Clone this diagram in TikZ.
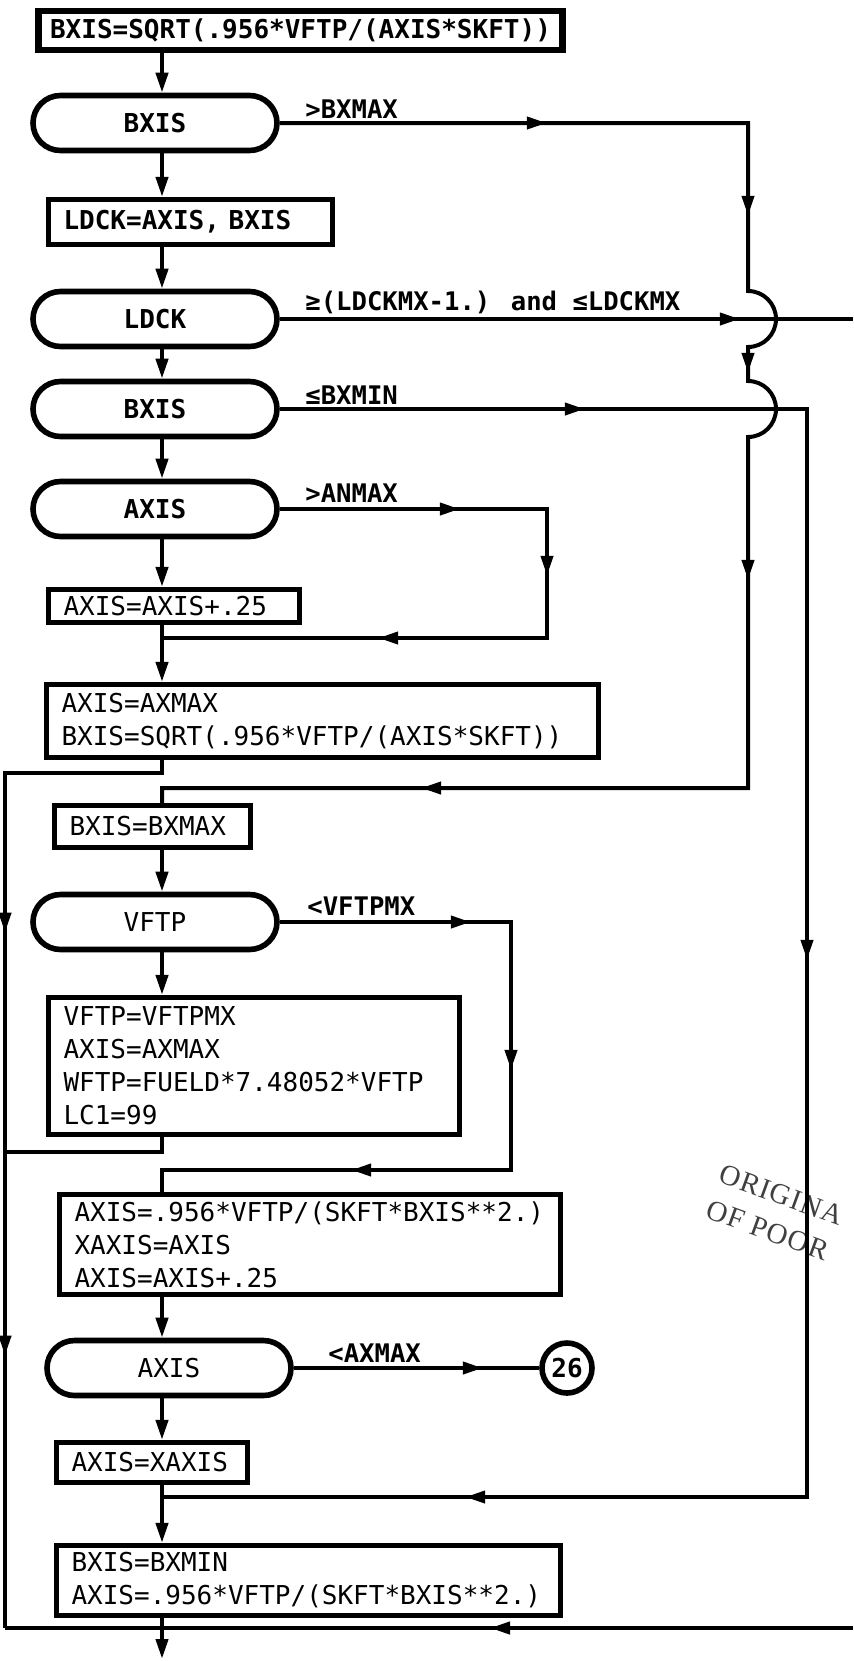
\documentclass[tikz,border=0pt]{standalone}
\usepackage{fontspec}
\setmainfont{DejaVu Sans Mono}
\newfontfamily\stampfont{Liberation Serif}[LetterSpace=4]
\usetikzlibrary{arrows.meta, calc, shapes.misc, decorations.markings}

\begin{document}
\begin{tikzpicture}[x=0.5pt, y=-0.5pt, >={Triangle[length=10pt,width=6pt]},
  box/.style={draw, rectangle, line width=2.6pt, align=left, inner xsep=7.5pt, inner ysep=2pt,
    font=\fontsize{13}{16.5}\selectfont},
  heavy/.style={font=\fontsize{13}{16.5}\selectfont\bfseries},
  test/.style={draw, rounded rectangle, line width=2.8pt, minimum width=122pt, minimum height=27.5pt,
    inner sep=0pt, font=\fontsize{13}{16}\selectfont},
  cond/.style={anchor=base west, inner sep=0pt, font=\fontsize{12.8}{15}\selectfont\bfseries},
  flow/.style={line width=2pt, line join=miter},
  arrat/.style={postaction={decorate, decoration={markings, mark=at position #1 with {\arrow{>}}}}}]
  \useasboundingbox (0,0) rectangle (853,1661);
  \coordinate (col) at (162,0);
  % boxes and tests, top to bottom
  \node[box, heavy, line width=3.2pt, align=center, inner sep=0pt, minimum width=262pt, minimum height=19.3pt] (bx1) at (300.5,30.5) {BXIS=SQRT(.956*VFTP/(AXIS*SKFT))};
  \node[test, heavy] (t1) at (155,123) {BXIS};
  \node[box, heavy, text width=127pt, minimum height=22.5pt] (bx2) at (190.5,222) {LDCK=AXIS, BXIS};
  \node[test, heavy] (t2) at (155,319) {LDCK};
  \node[test, heavy] (t3) at (155,409) {BXIS};
  \node[test, heavy] (t4) at (155,509) {AXIS};
  \node[box, text width=110.5pt, minimum height=16.5pt] (bx3) at (174,606) {AXIS=AXIS+.25};
  \node[box, text width=261pt, minimum height=36.5pt] (bx4) at (322.5,721) {AXIS=AXMAX\\BXIS=SQRT(.956*VFTP/(AXIS*SKFT))};
  \node[box, text width=83pt, minimum height=21pt] (bx5) at (152.5,826.5) {BXIS=BXMAX};
  \node[test] (t5) at (155,922) {VFTP};
  \node[box, text width=190.5pt, minimum height=68.5pt] (bx6) at (254,1066) {VFTP=VFTPMX\\AXIS=AXMAX\\WFTP=FUELD*7.48052*VFTP\\LC1=99};
  \node[box, text width=235.5pt, minimum height=50pt] (bx7) at (310,1244.5) {AXIS=.956*VFTP/(SKFT*BXIS**2.)\\XAXIS=AXIS\\AXIS=AXIS+.25};
  \node[test] (t6) at (169,1368) {AXIS};
  \node[draw, circle, line width=2.8pt, minimum size=25pt, inner sep=0pt, font=\fontsize{13}{16}\selectfont\bfseries] (c26) at (567,1368) {26};
  \node[box, text width=80.5pt, minimum height=20pt] (bx8) at (152,1462.5) {AXIS=XAXIS};
  \node[box, text width=237pt, minimum height=35pt] (bx9) at (308.5,1580.5) {BXIS=BXMIN\\AXIS=.956*VFTP/(SKFT*BXIS**2.)};
  % branch conditions
  \node[cond] (lbxmax) at (305,118) {>BXMAX};
  \node[cond] (lldck) at (305,310) {≥(LDCKMX-1.) and ≤LDCKMX};
  \node[cond] (lbxmin) at (305,404) {≤BXMIN};
  \node[cond] (lanmax) at (305,502) {>ANMAX};
  \node[cond] (lvftp) at (307,915) {<VFTPMX};
  \node[cond] (laxmax) at (328,1362) {<AXMAX};
  % stamp
  \node[anchor=north west, rotate=-20, align=left, inner sep=0pt, text=black!75,
    font=\stampfont\fontsize{14.5}{19}\selectfont] (stamp) at (724,1163) {ORIGINA\\OF POOR};
  % corner points
  \coordinate (rA) at (748,123);
  \coordinate (rAb) at (748,788);
  \coordinate (hopA) at (rA |- t2.east);
  \coordinate (hopB) at (rA |- t3.east);
  \coordinate (rB) at (807,409);
  \coordinate (rBb) at (807,1497);
  \coordinate (rC) at (547,509);
  \coordinate (rCb) at (547,638);
  \coordinate (rD) at (511,922);
  \coordinate (rDb) at (511,1170);
  \coordinate (ldout) at (853,319);
  \coordinate (lft) at (5,773);
  \coordinate (lftb) at (5,1628);
  \coordinate (j6) at (162,1152);
  \coordinate (botin) at (853,1628);
  \coordinate (exit) at (162,1659);
  % main column
  \draw[flow,->] (bx1.south -| col) -- (t1.north -| col);
  \draw[flow,->] (t1.south -| col) -- (bx2.north -| col);
  \draw[flow,->] (bx2.south -| col) -- (t2.north -| col);
  \draw[flow,->] (t2.south -| col) -- (t3.north -| col);
  \draw[flow,->] (t3.south -| col) -- (t4.north -| col);
  \draw[flow,->] (t4.south -| col) -- (bx3.north -| col);
  \draw[flow,->] (bx3.south -| col) -- (bx4.north -| col);
  \draw[flow,->] (bx5.south -| col) -- (t5.north -| col);
  \draw[flow,->] (t5.south -| col) -- (bx6.north -| col);
  \draw[flow,->] (bx7.south -| col) -- (t6.north -| col);
  \draw[flow,->] (t6.south -| col) -- (bx8.north -| col);
  \draw[flow,->] (bx8.south -| col) -- (bx9.north -| col);
  \draw[flow,->] (bx9.south -| col) -- (exit);
  % >BXMAX, hopping over two lines
  \draw[flow, arrat=133.5pt, arrat=280.5pt, arrat=375pt, arrat=494.5pt, arrat=762pt]
    (t1.east) -- (rA) -- ($(hopA)+(0,14pt)$) arc[start angle=90, end angle=-90, radius=14pt]
    -- ($(hopB)+(0,14pt)$) arc[start angle=90, end angle=-90, radius=14pt]
    -- (rAb) -- (rAb -| col) -- (bx5.north -| col);
  % LDCK out
  \draw[flow, arrat=230pt] (t2.east) -- (ldout);
  % <=BXMIN
  \draw[flow, arrat=152.5pt, arrat=539pt, arrat=978.5pt] (t3.east) -- (rB) -- (rBb) -- (rBb -| col);
  % >ANMAX
  \draw[flow, arrat=90pt, arrat=167pt, arrat=282.5pt] (t4.east) -- (rC) -- (rCb) -- (rCb -| col);
  % <VFTPMX
  \draw[flow, arrat=95.5pt, arrat=189.5pt, arrat=319.5pt] (t5.east) -- (rD) -- (rDb) -- (rDb -| col) -- (bx7.north -| col);
  % <AXMAX
  \draw[flow, arrat=94.5pt] (t6.east) -- (c26.west);
  % left loop
  \draw[flow, arrat=164.75pt, arrat=376.25pt] (bx4.south -| col) -- (lft -| col) -- (lft) -- (lftb);
  \draw[flow] (bx6.south -| col) -- (j6) -- (j6 -| lft);
  % bottom line
  \draw[flow, arrat=181.5pt] (botin) -- (lftb);
\end{tikzpicture}
\end{document}
